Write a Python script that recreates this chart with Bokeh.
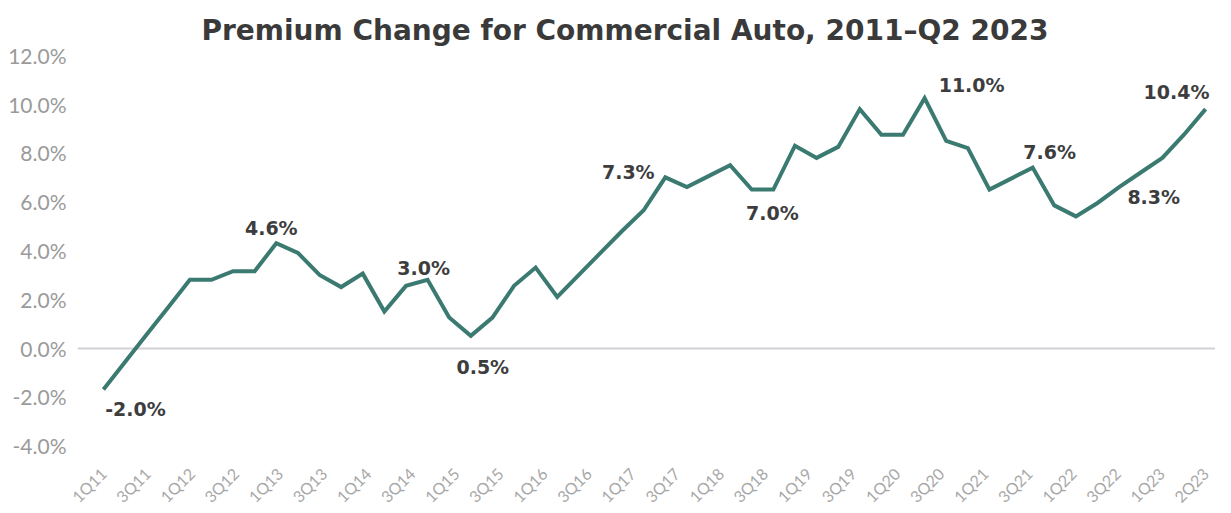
import numpy as np
from bokeh.plotting import figure
from bokeh.models import (Range1d, FixedTicker, PrintfTickFormatter, CustomJSTickFormatter,
                          ColumnDataSource, LabelSet)
from bokeh.embed import file_html
from bokeh.resources import INLINE
from bokeh.core.properties import value

# ---------------- data ----------------
premium_change = [
    -1.7, -0.575, 0.55, 1.675, 2.8, 2.8, 3.15, 3.15, 4.3, 3.9,
    3.0, 2.5, 3.05, 1.5, 2.55, 2.8, 1.25, 0.5, 1.25, 2.55,
    3.3, 2.1, 3.0, 3.9, 4.8, 5.65, 7.0, 6.6, 7.05, 7.5,
    6.5, 6.5, 8.3, 7.8, 8.25, 9.8, 8.75, 8.75, 10.25, 8.5,
    8.2, 6.5, 6.95, 7.4, 5.85, 5.4, 5.95, 6.6, 7.2, 7.8,
    8.75, 9.8,
]
tick_labels = [
    "1Q11", "3Q11", "1Q12", "3Q12", "1Q13", "3Q13", "1Q14", "3Q14", "1Q15", "3Q15",
    "1Q16", "3Q16", "1Q17", "3Q17", "1Q18", "3Q18", "1Q19", "3Q19", "1Q20", "3Q20",
    "1Q21", "3Q21", "1Q22", "3Q22", "1Q23", "2Q23",
]
y_ticks = [-4, -2, 0, 2, 4, 6, 8, 10, 12]

# callouts: index of the point, text
callout_index = [0, 8, 15, 17, 26, 31, 38, 43, 48, 51]
callout_text = ["-2.0%", "4.6%", "3.0%", "0.5%", "7.3%", "7.0%", "11.0%", "7.6%", "8.3%", "10.4%"]
# pixel offsets (style)
callout_dx = [32, -5, -4, 12, -37, -1, 47, 17, 13, -29]
callout_dy = [-20, 15, 12, -31, 5, -23, 13, 16, -25, 17]

# ---------------- figure ----------------
n = len(premium_change)
xs = list(range(n))

p = figure(frame_width=1138, frame_height=405, output_backend="svg", toolbar_location=None,
           x_range=Range1d(-1.2, n - 1 + 0.46), y_range=Range1d(-4.369, 12.246),
           min_border_left=77, min_border_right=0, min_border_top=49, min_border_bottom=44)
p.outline_line_color = None
p.background_fill_color = "white"

p.title.text = "Premium Change for Commercial Auto, 2011\u2013Q2 2023"
p.title.align = "left"
p.title.offset = 124
p.title.text_font = "DejaVu Sans"
p.title.text_font_size = "28px"
p.title.text_font_style = "bold"
p.title.text_color = "#3a3a3a"
p.title.standoff = 6

# y axis
p.yaxis.ticker = FixedTicker(ticks=y_ticks)
p.yaxis.formatter = PrintfTickFormatter(format="%.1f%%")
p.yaxis.axis_line_color = None
p.yaxis.major_tick_line_color = None
p.yaxis.minor_tick_line_color = None
p.yaxis.major_label_text_font = "Lato"
p.yaxis.major_label_text_font_size = "21px"
p.yaxis.major_label_text_color = "#9a9a9a"
p.yaxis.major_label_standoff = 5

# x axis: labels spread evenly across the series
label_pos = list(np.linspace(0, n - 1, len(tick_labels)))
p.xaxis.ticker = FixedTicker(ticks=label_pos)
p.xaxis.formatter = CustomJSTickFormatter(
    args=dict(labels=tick_labels, step=(n - 1) / (len(tick_labels) - 1)),
    code="return labels[Math.round(tick / step)] || '';")
p.xaxis.major_label_orientation = np.pi / 4
p.xaxis.axis_line_color = None
p.xaxis.major_tick_line_color = None
p.xaxis.minor_tick_line_color = None
p.xaxis.major_label_text_font = "Lato"
p.xaxis.major_label_text_font_size = "16px"
p.xaxis.major_label_text_color = "#a8a8a8"
p.xaxis.major_label_standoff = 10

# grid: only zero line
p.xgrid.grid_line_color = None
p.ygrid.ticker = FixedTicker(ticks=[0])
p.ygrid.grid_line_color = "#d2d2d6"
p.ygrid.grid_line_width = 2

# line
p.line(xs, premium_change, line_color="#3b7a70", line_width=4, line_join="miter")

# callouts
src = ColumnDataSource(dict(
    x=callout_index,
    y=[premium_change[i] for i in callout_index],
    text=callout_text,
    dx=callout_dx,
    dy=callout_dy,
))
labels = LabelSet(x="x", y="y", text="text", source=src, x_offset="dx", y_offset="dy",
                  text_align="center", text_baseline="middle", text_font=value("DejaVu Sans"),
                  text_font_style="bold", text_font_size="19px", text_color="#3d3d3d")
p.add_layout(labels)

open("out.html", "w").write(file_html(p, INLINE))
